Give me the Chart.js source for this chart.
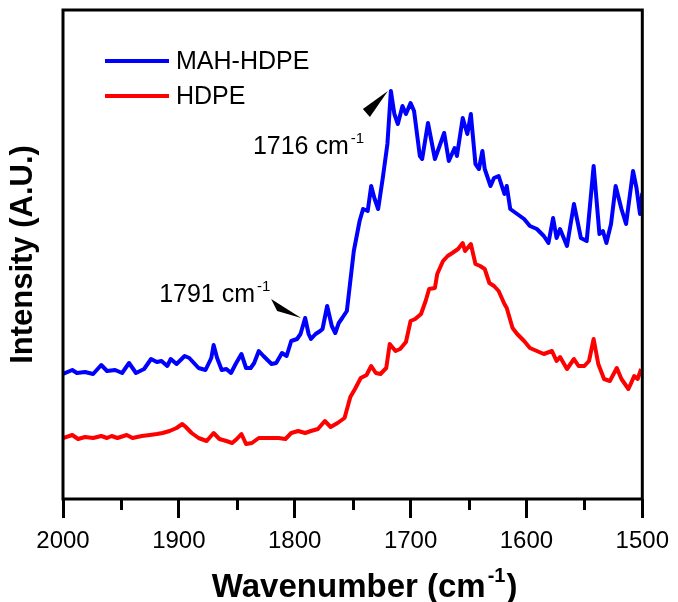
<!DOCTYPE html>
<html>
<head>
<meta charset="utf-8">
<title>FTIR - MAH-HDPE vs HDPE</title>
<script src="https://cdn.jsdelivr.net/npm/chart.js@4.4.1/dist/chart.umd.min.js"></script>
<style>
  html, body { margin: 0; padding: 0; background: #ffffff; }
  #wrap { width: 678px; height: 602px; }
</style>
</head>
<body>
<div id="wrap"><canvas id="ftirChart" width="678" height="602"></canvas></div>
<script>
// MAH-HDPE spectrum (wavenumber in cm-1, intensity in arbitrary units)
const mahWavenumbers = [2000, 1992, 1988, 1981, 1974, 1967, 1962, 1955, 1949, 1943,
  1937, 1930, 1924, 1919, 1915, 1910, 1907, 1902, 1895, 1891,
  1883, 1877, 1872, 1870, 1867, 1863, 1859, 1855, 1851, 1846,
  1842, 1838, 1835, 1831, 1827, 1820, 1816, 1811, 1807, 1803,
  1798, 1795, 1791, 1788, 1786, 1782, 1778, 1776, 1772, 1768,
  1765, 1762, 1759, 1755, 1752, 1749, 1744, 1741, 1737, 1734,
  1731, 1728, 1724, 1720, 1717, 1714, 1711, 1707, 1704, 1700,
  1697, 1692, 1690, 1685, 1679, 1675, 1671, 1667, 1662, 1660,
  1655, 1651, 1648, 1644, 1641, 1638, 1636, 1631, 1628, 1624,
  1619, 1617, 1614, 1608, 1602, 1597, 1591, 1585, 1581, 1577,
  1574, 1571, 1565, 1559, 1553, 1548, 1542, 1537, 1534, 1531,
  1527, 1523, 1518, 1514, 1508, 1505, 1502, 1500];
const mahIntensity = [125, 129, 126, 127, 125, 134, 128, 129, 126, 136,
  126, 130, 140, 137, 138, 133, 140, 135, 143, 141,
  131, 129, 141, 154, 141, 129, 130, 126, 135, 145,
  131, 131, 136, 148, 143, 135, 136, 146, 143, 158,
  160, 165, 181, 165, 160, 165, 168, 170, 193, 173,
  166, 176, 181, 188, 218, 248, 278, 290, 288, 313,
  300, 290, 321, 355, 408, 385, 375, 393, 385, 396,
  388, 343, 340, 376, 340, 353, 366, 338, 351, 343,
  381, 365, 385, 335, 330, 348, 330, 313, 321, 323,
  305, 313, 290, 285, 280, 273, 270, 263, 256, 281,
  261, 270, 253, 295, 261, 258, 333, 265, 268, 256,
  275, 313, 290, 275, 328, 311, 285, 306];

// HDPE spectrum
const hdpeWavenumbers = [2000, 1992, 1987, 1981, 1974, 1967, 1962, 1958, 1953, 1945,
  1940, 1932, 1925, 1919, 1914, 1908, 1902, 1897, 1894, 1889,
  1883, 1876, 1870, 1865, 1859, 1854, 1850, 1846, 1842, 1837,
  1831, 1825, 1820, 1814, 1808, 1803, 1797, 1791, 1786, 1780,
  1774, 1769, 1763, 1757, 1752, 1748, 1743, 1738, 1734, 1730,
  1726, 1721, 1718, 1713, 1709, 1704, 1700, 1696, 1691, 1687,
  1684, 1679, 1677, 1672, 1668, 1664, 1659, 1655, 1653, 1648,
  1644, 1640, 1636, 1632, 1628, 1624, 1619, 1617, 1612, 1608,
  1602, 1597, 1591, 1585, 1578, 1574, 1571, 1565, 1559, 1555,
  1550, 1546, 1542, 1538, 1533, 1528, 1522, 1518, 1512, 1510,
  1507, 1504, 1501];
const hdpeIntensity = [61, 64, 60, 62, 61, 63, 61, 63, 61, 64,
  61, 63, 64, 65, 66, 68, 71, 75, 72, 66,
  61, 58, 66, 60, 58, 56, 60, 65, 55, 56,
  61, 61, 61, 61, 60, 66, 68, 66, 68, 70,
  78, 72, 76, 81, 102, 110, 121, 124, 133, 126,
  125, 131, 155, 148, 150, 157, 178, 180, 185, 198,
  210, 211, 225, 238, 243, 246, 250, 256, 248, 255,
  235, 233, 230, 216, 213, 208, 195, 191, 171, 165,
  158, 151, 148, 145, 148, 138, 142, 130, 140, 133,
  133, 138, 160, 135, 120, 118, 131, 120, 110, 115,
  123, 120, 130];

const seriesNames = ["MAH-HDPE", "HDPE"];
const seriesColors = ["#0000ff", "#ff0000"];
const xTickValues = [2000, 1900, 1800, 1700, 1600, 1500];
const xMinorTicks = [1950, 1850, 1750, 1650, 1550];
// peaks marked on the MAH-HDPE curve (label, data point used)
const peakMarks = [1716, 1791];
const peakPoints = [1717, 1791];

const FONT = "Arial, 'Liberation Sans', sans-serif";

function toPoints(xs, ys) {
  return xs.map((x, i) => ({ x: x, y: ys[i] }));
}

// draws "main" followed by a raised superscript, returns end x
function drawSupText(ctx, x, y, main, sup, tail, size, supSize, weight) {
  ctx.font = weight + " " + size + "px " + FONT;
  ctx.fillText(main, x, y);
  let cx = x + ctx.measureText(main).width + 2;
  ctx.font = weight + " " + supSize + "px " + FONT;
  ctx.fillText(sup, cx, y - size * 0.45);
  cx += ctx.measureText(sup).width + 1;
  if (tail) {
    ctx.font = weight + " " + size + "px " + FONT;
    ctx.fillText(tail, cx, y);
    cx += ctx.measureText(tail).width;
  }
  return cx;
}

function supTextWidth(ctx, main, sup, tail, size, supSize, weight) {
  ctx.font = weight + " " + size + "px " + FONT;
  let w = ctx.measureText(main + tail).width + 3;
  ctx.font = weight + " " + supSize + "px " + FONT;
  return w + ctx.measureText(sup).width;
}

// arrow / label offsets relative to the marked peak (pixels)
const markLayout = {
  1716: { tip: [-3, 0], base1: [-28, 18], base2: [-21, 26], text: [-138, 63] },
  1791: { tip: [-4, 0], base1: [-34, -19], base2: [-28, -7], text: [-146, -16] }
};

const decorations = {
  id: "decorations",
  afterDraw(chart) {
    const { ctx, chartArea: a, scales: { x, y } } = chart;
    ctx.save();

    // frame
    ctx.strokeStyle = "#000";
    ctx.lineWidth = 3;
    ctx.strokeRect(a.left, a.top, a.right - a.left, a.bottom - a.top);

    // minor ticks
    ctx.beginPath();
    xMinorTicks.forEach((v) => {
      const px = Math.round(x.getPixelForValue(v)) + 0.5;
      ctx.moveTo(px, a.bottom);
      ctx.lineTo(px, a.bottom + 11);
    });
    ctx.stroke();

    // legend
    ctx.textBaseline = "middle";
    ctx.textAlign = "left";
    chart.data.datasets.forEach((ds, i) => {
      const ly = a.top + 51 + i * 35;
      ctx.strokeStyle = ds.borderColor;
      ctx.lineWidth = 4;
      ctx.beginPath();
      ctx.moveTo(a.left + 42, ly);
      ctx.lineTo(a.left + 106, ly);
      ctx.stroke();
      ctx.fillStyle = "#000";
      ctx.font = "25px " + FONT;
      ctx.fillText(ds.label, a.left + 113, ly + 1);
    });

    // peak annotations
    ctx.textBaseline = "alphabetic";
    peakMarks.forEach((wn, k) => {
      const idx = mahWavenumbers.indexOf(peakPoints[k]);
      const px = x.getPixelForValue(mahWavenumbers[idx]);
      const py = y.getPixelForValue(mahIntensity[idx]);
      const m = markLayout[wn];
      const tx = px + m.tip[0], ty = py + m.tip[1];
      ctx.fillStyle = "#000";
      ctx.beginPath();
      ctx.moveTo(tx, ty);
      ctx.lineTo(px + m.base1[0], py + m.base1[1]);
      ctx.lineTo(px + m.base2[0], py + m.base2[1]);
      ctx.closePath();
      ctx.fill();
      drawSupText(ctx, px + m.text[0], py + m.text[1], wn + " cm", "-1", "", 25, 15, "normal");
    });

    // x axis title
    const tw = supTextWidth(ctx, "Wavenumber (cm", "-1", ")", 33, 20, "bold");
    const cx = (a.left + a.right) / 2 + 12;
    drawSupText(ctx, cx - tw / 2, a.bottom + 98, "Wavenumber (cm", "-1", ")", 33, 20, "bold");

    ctx.restore();
  }
};

const ctx = document.getElementById("ftirChart").getContext("2d");

const ftirChart = new Chart(ctx, {
  type: "line",
  data: {
    datasets: [
      {
        label: seriesNames[0],
        data: toPoints(mahWavenumbers, mahIntensity),
        borderColor: seriesColors[0],
        borderWidth: 4,
        pointRadius: 0,
        tension: 0,
        borderJoinStyle: "round",
        fill: false,
      },
      {
        label: seriesNames[1],
        data: toPoints(hdpeWavenumbers, hdpeIntensity),
        borderColor: seriesColors[1],
        borderWidth: 4,
        pointRadius: 0,
        tension: 0,
        borderJoinStyle: "round",
        fill: false,
      },
    ],
  },
  options: {
    responsive: false,
    animation: false,
    devicePixelRatio: 1,
    layout: {
      padding: { left: 0, right: 32, top: 10, bottom: 0 },
    },
    plugins: {
      legend: { display: false },
      tooltip: { enabled: false },
    },
    scales: {
      x: {
        type: "linear",
        min: 1500,
        max: 2000,
        reverse: true,
        afterBuildTicks: (scale) => {
          scale.ticks = xTickValues.map((v) => ({ value: v }));
        },
        afterFit: (scale) => {
          scale.height = 103;
        },
        border: { display: false },
        grid: {
          drawOnChartArea: false,
          drawTicks: true,
          tickLength: 19,
          tickWidth: 3,
          tickColor: "#000",
        },
        ticks: {
          color: "#000",
          padding: 9,
          maxRotation: 0,
          font: { family: FONT, size: 24 },
          callback: (value) => String(value),
        },
      },
      y: {
        min: 0,
        max: 489,
        afterFit: (scale) => {
          scale.width = 63;
        },
        border: { display: false },
        grid: { display: false },
        ticks: { display: false },
        title: {
          display: true,
          text: "Intensity (A.U.)",
          color: "#000",
          padding: { top: 5, bottom: 0 },
          font: { family: FONT, size: 31, weight: "bold" },
        },
      },
    },
  },
  plugins: [decorations],
});
</script>
</body>
</html>
